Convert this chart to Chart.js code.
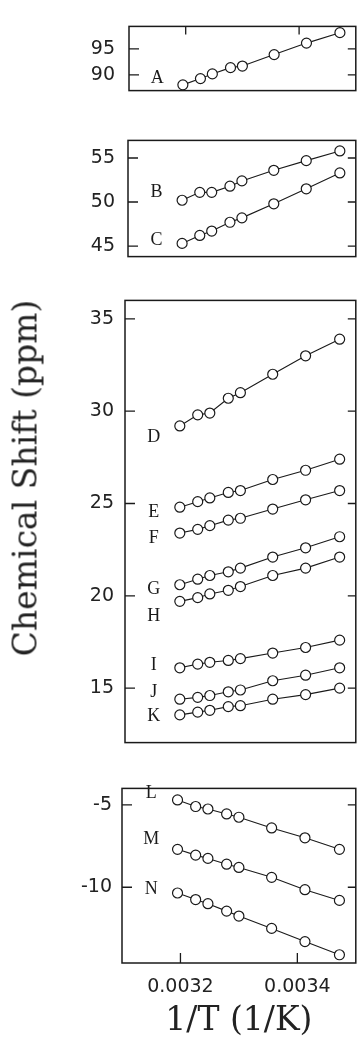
<!DOCTYPE html>
<html>
<head>
<meta charset="utf-8">
<script src="https://cdn.jsdelivr.net/npm/chart.js@4.4.0/dist/chart.umd.min.js"></script>
<style>
  body { margin: 0; background: #fff; width: 362px; height: 1045px; position: relative; overflow: hidden; }
  .panel { position: absolute; left: 0; width: 362px; }
  #ytitle {
    position: absolute; left: 25px; top: 478px;
    transform: translate(-50%, -50%) rotate(-90deg);
    font: 33px "DejaVu Serif"; color: #222; white-space: nowrap;
  }
</style>
</head>
<body>
<div class="panel" id="p1"><canvas id="c1"></canvas></div>
<div class="panel" id="p2"><canvas id="c2"></canvas></div>
<div class="panel" id="p3"><canvas id="c3"></canvas></div>
<div class="panel" id="p4"><canvas id="c4"></canvas></div>
<div id="ytitle">Chemical Shift (ppm)</div>

<script>
// 1/T for the eight temperatures (1/K)
const invT = [0.003195, 0.003226, 0.003247, 0.003279, 0.003300, 0.003356, 0.003413, 0.003472];
const xTicks = [0.0032, 0.0034];

// chemical shifts (ppm)
const shiftA = [88.1, 89.3, 90.2, 91.4, 91.7, 93.9, 96.1, 98.1];
const shiftB = [50.2, 51.1, 51.1, 51.8, 52.4, 53.6, 54.7, 55.8];
const shiftC = [45.3, 46.2, 46.7, 47.7, 48.2, 49.8, 51.5, 53.3];
const shiftD = [29.2, 29.8, 29.9, 30.7, 31.0, 32.0, 33.0, 33.9];
const shiftE = [24.8, 25.1, 25.3, 25.6, 25.7, 26.3, 26.8, 27.4];
const shiftF = [23.4, 23.6, 23.8, 24.1, 24.2, 24.7, 25.2, 25.7];
const shiftG = [20.6, 20.9, 21.1, 21.3, 21.5, 22.1, 22.6, 23.2];
const shiftH = [19.7, 19.9, 20.1, 20.3, 20.5, 21.1, 21.5, 22.1];
const shiftI = [16.1, 16.3, 16.4, 16.5, 16.6, 16.9, 17.2, 17.6];
const shiftJ = [14.4, 14.5, 14.6, 14.8, 14.9, 15.4, 15.7, 16.1];
const shiftK = [13.55, 13.7, 13.8, 14.0, 14.05, 14.4, 14.65, 15.0];
const shiftL = [-4.7, -5.1, -5.25, -5.55, -5.75, -6.4, -7.0, -7.7];
const shiftM = [-7.7, -8.05, -8.25, -8.6, -8.8, -9.4, -10.15, -10.8];
const shiftN = [-10.35, -10.75, -11.0, -11.45, -11.75, -12.5, -13.3, -14.1];

// where each series letter sits (ppm), at 1/T = letterX
const letterX = 0.00315;
const letterAt = { A: 89.4, B: 51.1, C: 45.6, D: 28.6, E: 24.5, F: 23.1, G: 20.35, H: 18.9,
                   I: 16.25, J: 14.8, K: 13.45, L: -4.3, M: -7.1, N: -10.15 };

const yTicks1 = [90, 95];
const yTicks2 = [45, 50, 55];
const yTicks3 = [15, 20, 25, 30, 35];
const yTicks4 = [-10, -5];

const ink = '#1a1a1a';

function series(name, vals) {
  return {
    label: name,
    labelAt: letterAt[name],
    data: invT.map((t, i) => ({ x: t, y: vals[i] })),
    borderColor: ink,
    borderWidth: 1.1,
    pointRadius: 5,
    pointBorderWidth: 1.2,
    pointBackgroundColor: '#fff',
    pointBorderColor: ink,
    tension: 0
  };
}

const framePlugin = {
  id: 'frame',
  afterDatasetsDraw(chart, args, opts) {
    const { ctx, chartArea: a, scales: { x, y } } = chart;
    ctx.save();
    ctx.strokeStyle = ink;
    ctx.lineWidth = 1.5;
    ctx.strokeRect(a.left, a.top, a.right - a.left, a.bottom - a.top);
    ctx.lineWidth = 1.3;
    ctx.beginPath();
    y.ticks.forEach(t => {
      const py = y.getPixelForValue(t.value);
      ctx.moveTo(a.left, py); ctx.lineTo(a.left + 10, py);
      ctx.moveTo(a.right, py); ctx.lineTo(a.right - 8, py);
    });
    xTicks.forEach(v => {
      const px = x.getPixelForValue(v);
      if (opts.top) { ctx.moveTo(px, a.top); ctx.lineTo(px, a.top + 8); }
      if (opts.bottom) { ctx.moveTo(px, a.bottom); ctx.lineTo(px, a.bottom - 10); }
    });
    ctx.stroke();

    ctx.fillStyle = ink;
    ctx.font = '18px "Liberation Serif"';
    ctx.textAlign = 'center';
    ctx.textBaseline = 'middle';
    chart.data.datasets.forEach(ds => {
      ctx.fillText(ds.label, x.getPixelForValue(letterX), y.getPixelForValue(ds.labelAt));
    });
    ctx.restore();
  }
};

const tickFont = { family: 'DejaVu Sans', size: 19 };

function makePanel(id, box, yMin, yMax, yTicks, datasets, isBottom, topTicks) {
  const pad = 12;
  const holder = document.getElementById('p' + id);
  const top = box.top - pad;
  const height = isBottom ? 1045 - top : (box.bottom - box.top) + 2 * pad;
  holder.style.top = top + 'px';
  holder.style.height = height + 'px';

  new Chart(document.getElementById('c' + id), {
    type: 'line',
    data: { datasets: datasets },
    plugins: [framePlugin],
    options: {
      responsive: true,
      maintainAspectRatio: false,
      animation: false,
      events: [],
      layout: { padding: { top: pad, bottom: isBottom ? 0 : pad, left: 0, right: 362 - box.right } },
      plugins: {
        legend: { display: false },
        tooltip: { enabled: false },
        frame: { top: topTicks, bottom: isBottom }
      },
      scales: {
        x: {
          type: 'linear',
          min: 0.0031,
          max: 0.0035,
          display: isBottom,
          grid: { display: false, drawTicks: false },
          border: { display: false },
          afterBuildTicks: s => { s.ticks = xTicks.map(v => ({ value: v })); },
          afterFit: s => { if (isBottom) s.height = 1045 - box.bottom; },
          ticks: {
            font: tickFont,
            color: '#222',
            padding: 13,
            maxRotation: 0,
            callback: v => v.toFixed(4)
          },
          title: {
            display: isBottom,
            text: '1/T (1/K)',
            font: { family: 'DejaVu Serif', size: 33 },
            color: '#222',
            padding: { top: 0, bottom: 4 }
          }
        },
        y: {
          min: yMin,
          max: yMax,
          grid: { display: false, drawTicks: false },
          border: { display: false },
          afterBuildTicks: s => { s.ticks = yTicks.map(v => ({ value: v })); },
          afterFit: s => { s.width = box.left; },
          ticks: {
            font: tickFont,
            color: '#222',
            padding: box.left - box.labelRight
          }
        }
      }
    }
  });
}

makePanel(1, { left: 129, right: 360, top: 13, bottom: 104, labelRight: 115 }, 87.0, 99.3, yTicks1,
  [series('A', shiftA)], false, true);
makePanel(2, { left: 128, right: 359, top: 128, bottom: 269, labelRight: 115 }, 43.8, 57.0, yTicks2,
  [series('B', shiftB), series('C', shiftC)], false, false);
makePanel(3, { left: 125, right: 358, top: 290, bottom: 753, labelRight: 114 }, 12.05, 36.0, yTicks3,
  [series('D', shiftD), series('E', shiftE), series('F', shiftF), series('G', shiftG),
   series('H', shiftH), series('I', shiftI), series('J', shiftJ), series('K', shiftK)], false, false);
makePanel(4, { left: 122, right: 356, top: 779, bottom: 963, labelRight: 112 }, -14.6, -4.0, yTicks4,
  [series('L', shiftL), series('M', shiftM), series('N', shiftN)], true, false);
</script>
</body>
</html>
